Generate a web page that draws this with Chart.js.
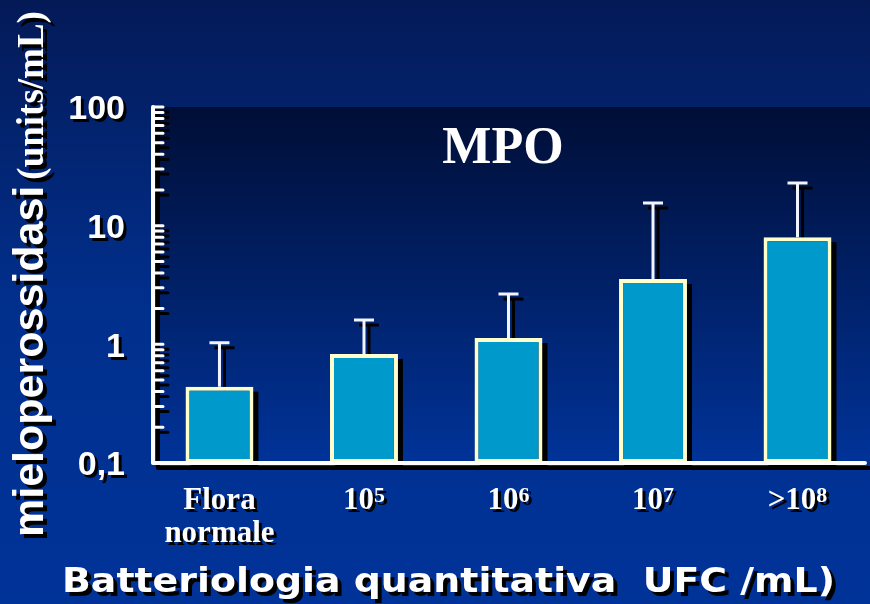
<!DOCTYPE html>
<html lang="it">
  <head>
    <meta charset="utf-8" />
    <style>
      html, body { margin: 0; padding: 0; background: #003399; }
      .chart { width: 870px; height: 604px; }
    </style>
  </head>
  <body>
    <div class="chart"><canvas id="myChart"></canvas></div>

    <script src="https://cdn.jsdelivr.net/npm/chart.js@4.4.1/dist/chart.umd.min.js"></script>
    <script>
      // categories: "\n" splits lines, "^" marks the exponent
      const categories = ["Flora\nnormale", "10^5", "10^6", "10^7", ">10^8"];
      const mpoMean = [0.44, 0.83, 1.13, 3.55, 8.0];
      const mpoUpper = [1.03, 1.6, 2.66, 15.5, 22.9];
      const yTicks = [0.1, 1, 10, 100];
      const yTickLabels = ["0,1", "1", "10", "100"];
      const chartTitle = "MPO";
      const yTitleMain = "mieloperossidasi";
      const yTitleUnit = "(units/mL)";
      const xTitle = "Batteriologia quantitativa  UFC /mL)";

      function setShadow(ctx, d) {
        ctx.shadowColor = "#000";
        ctx.shadowBlur = 0;
        ctx.shadowOffsetX = d;
        ctx.shadowOffsetY = d;
      }

      const slidePlugin = {
        id: "slide",
        beforeDraw(chart) {
          const { ctx, chartArea: a, width, height } = chart;
          ctx.save();
          let g = ctx.createLinearGradient(0, 0, 0, height);
          g.addColorStop(0, "#041a57");
          g.addColorStop(0.5, "#012f8c");
          g.addColorStop(1, "#003399");
          ctx.fillStyle = g;
          ctx.fillRect(0, 0, width, height);
          g = ctx.createLinearGradient(0, a.top, 0, a.bottom);
          g.addColorStop(0, "#000e36");
          g.addColorStop(1, "#003399");
          ctx.fillStyle = g;
          ctx.fillRect(a.left, a.top, width - a.left, a.bottom - a.top);
          ctx.restore();
        },
        beforeDatasetsDraw(chart) {
          const { ctx } = chart;
          const y = chart.scales.y;
          const meta = chart.getDatasetMeta(0);
          ctx.save();
          // bar shadows
          ctx.fillStyle = "#000";
          meta.data.forEach((bar) => {
            ctx.fillRect(bar.x - bar.width / 2 + 5, bar.y + 5, bar.width, bar.base - bar.y);
          });
          // error bars
          ctx.strokeStyle = "#f2f4ff";
          ctx.lineWidth = 3;
          setShadow(ctx, 5);
          meta.data.forEach((bar, i) => {
            const top = y.getPixelForValue(mpoUpper[i]);
            ctx.beginPath();
            ctx.moveTo(bar.x, bar.y);
            ctx.lineTo(bar.x, top);
            ctx.moveTo(bar.x - 10, top);
            ctx.lineTo(bar.x + 10, top);
            ctx.stroke();
          });
          ctx.restore();
        },
        afterDatasetsDraw(chart) {
          const { ctx, chartArea: a } = chart;
          const x = chart.scales.x;
          const y = chart.scales.y;
          ctx.save();

          // axes
          ctx.strokeStyle = "#fff";
          ctx.lineCap = "round";
          ctx.lineJoin = "round";
          ctx.lineWidth = 4;
          setShadow(ctx, 5);
          ctx.beginPath();
          ctx.moveTo(a.left, a.top);
          ctx.lineTo(a.left, a.bottom);
          ctx.lineTo(a.right, a.bottom);
          ctx.stroke();

          // log ticks pointing into the plot
          ctx.lineWidth = 3;
          ctx.beginPath();
          for (let e = -1; e < 2; e++) {
            for (let k = 1; k < 10; k++) {
              const py = y.getPixelForValue(k * Math.pow(10, e));
              ctx.moveTo(a.left, py);
              ctx.lineTo(a.left + 10, py);
            }
          }
          const pTop = y.getPixelForValue(100);
          ctx.moveTo(a.left, pTop);
          ctx.lineTo(a.left + 10, pTop);
          ctx.stroke();

          // y tick labels
          ctx.fillStyle = "#fff";
          setShadow(ctx, 3);
          ctx.font = "bold 34px 'Liberation Sans', Arial, sans-serif";
          ctx.textAlign = "right";
          ctx.textBaseline = "middle";
          yTicks.forEach((v, i) => {
            ctx.fillText(yTickLabels[i], 125, y.getPixelForValue(v) + 3);
          });

          // x category labels
          ctx.textBaseline = "alphabetic";
          const mainFont = "bold 31px 'Liberation Serif', 'Times New Roman', serif";
          const supFont = "bold 22px 'Liberation Serif', 'Times New Roman', serif";
          categories.forEach((label, i) => {
            const cx = x.getPixelForValue(i);
            if (label.includes("^")) {
              const [base, exp] = label.split("^");
              ctx.font = mainFont;
              const wb = ctx.measureText(base).width;
              ctx.font = supFont;
              const we = ctx.measureText(exp).width;
              const start = cx - (wb + we) / 2;
              ctx.textAlign = "left";
              ctx.font = mainFont;
              ctx.fillText(base, start, 509);
              ctx.font = supFont;
              ctx.fillText(exp, start + wb, 502);
            } else {
              ctx.textAlign = "center";
              ctx.font = mainFont;
              label.split("\n").forEach((line, k) => {
                ctx.fillText(line, cx, 509 + k * 33);
              });
            }
          });

          // x title
          ctx.font = "bold 34px 'DejaVu Sans', Verdana, sans-serif";
          ctx.textAlign = "left";
          const wx = ctx.measureText(xTitle).width;
          ctx.save();
          ctx.translate(62, 592);
          ctx.scale(773 / wx, 1);
          setShadow(ctx, 4);
          ctx.fillText(xTitle, 0, 0);
          ctx.restore();

          // y title
          ctx.save();
          ctx.translate(43, 537);
          ctx.rotate(-Math.PI / 2);
          setShadow(ctx, 4);
          ctx.textAlign = "left";
          ctx.font = "bold 43px 'Liberation Sans', Arial, sans-serif";
          ctx.fillText(yTitleMain, 0, 0);
          const w1 = ctx.measureText(yTitleMain).width;
          ctx.font = "bold 37px 'Liberation Serif', 'Times New Roman', serif";
          ctx.fillText(yTitleUnit, w1 + 6, 0);
          ctx.restore();

          // chart title inside the plot
          ctx.shadowColor = "transparent";
          ctx.font = "bold 52px 'Liberation Serif', 'Times New Roman', serif";
          ctx.textAlign = "center";
          ctx.fillText(chartTitle, 503, 163);

          ctx.restore();
        },
      };

      const ctx = document.getElementById("myChart");
      new Chart(ctx, {
        type: "bar",
        data: {
          datasets: [
            {
              label: "MPO",
              data: mpoMean.map((v, i) => ({ x: i, y: v })),
              backgroundColor: "#0099cc",
              borderColor: "#ffffcc",
              borderWidth: 4,
              borderSkipped: false,
              categoryPercentage: 1,
              barPercentage: 0.47,
            },
          ],
        },
        options: {
          responsive: true,
          maintainAspectRatio: false,
          animation: false,
          layout: { padding: { left: 153, top: 107, right: 5, bottom: 141 } },
          scales: {
            x: {
              type: "linear",
              min: -0.46,
              max: 4.467,
              offset: false,
              grid: { offset: false },
              ticks: { stepSize: 1, includeBounds: false },
              display: false,
            },
            y: { type: "logarithmic", min: 0.1, max: 100, display: false },
          },
          plugins: {
            legend: { display: false },
            tooltip: { enabled: false },
          },
        },
        plugins: [slidePlugin],
      });
    </script>
  </body>
</html>
